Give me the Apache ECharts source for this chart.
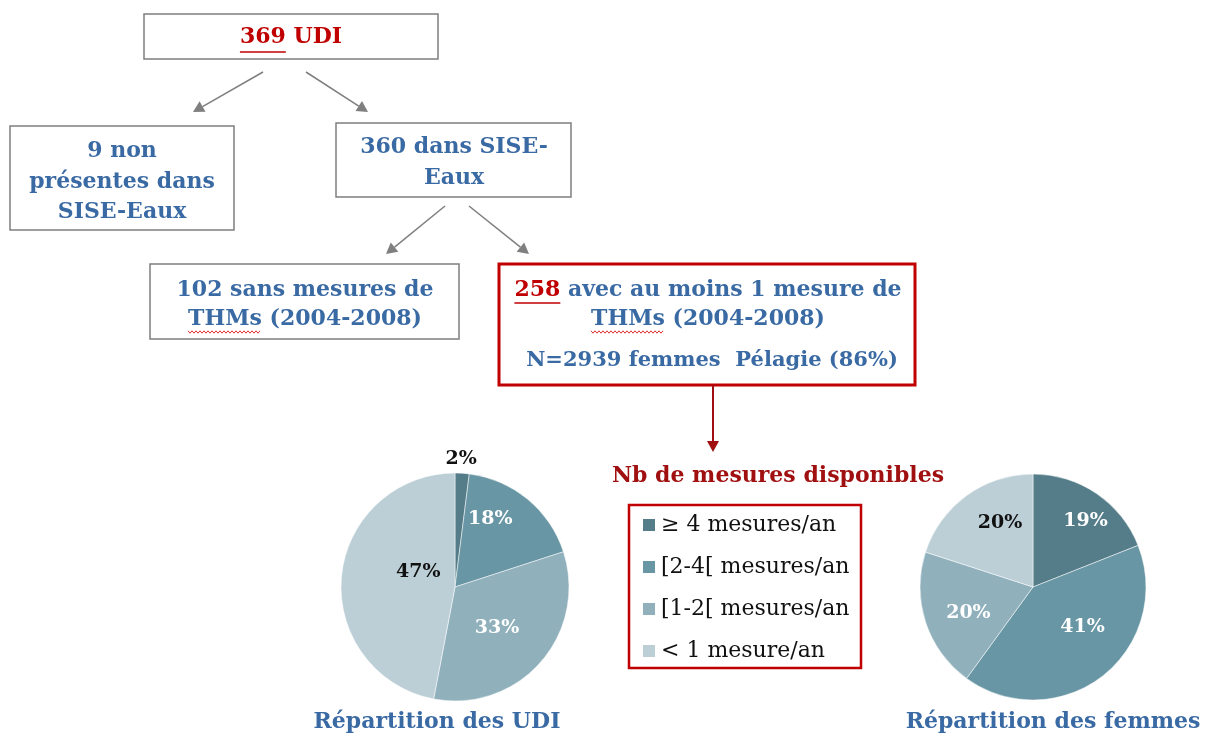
<!DOCTYPE html>
<html>
<head>
<meta charset="utf-8">
<script src="https://cdn.jsdelivr.net/npm/echarts@6/dist/echarts.min.js"></script>
<style>
  html, body { margin: 0; padding: 0; background: #fff; }
  #main { width: 1211px; height: 736px; }
</style>
</head>
<body>
<div id="main"></div>
<script>
// données
const categories = ['≥ 4 mesures/an', '[2-4[ mesures/an', '[1-2[ mesures/an', '< 1 mesure/an']
const udiShare = [2, 18, 33, 47]
const femmesShare = [19, 41, 20, 20]

const sliceColors = ['#557c89', '#6896a4', '#90b0bc', '#bccfd7']
const labelColors = ['#fff', '#fff', '#fff', '#111']
// décalage des étiquettes (comme dans l'original)
const udiLabelOffsets = [[-22, -10], [-3, -22], [-3, 1], [23, -9]]
const femmesLabelOffsets = [[19, -17], [13, -7], [-8, 8], [2, -16]]

const FONT = 'DejaVu Serif'
const FS = 22
const BOLD = 'bold ' + FS + 'px "' + FONT + '"'
const BLUE = '#3a6aa3'
const RED = '#c00000'
const GREY = '#7f7f7f'

let ctx = document.createElement('canvas').getContext('2d')
ctx.font = BOLD
function tw (s) {
  return ctx.measureText(s).width
}

function box (x, y, w, h, color, lw) {
  return { type: 'rect', shape: { x: x, y: y, width: w, height: h }, style: { fill: '#fff', stroke: color, lineWidth: lw } }
}

function txt (x, y, text, color, rich, font) {
  return {
    type: 'text',
    x: x,
    y: y,
    style: {
      text: text,
      fill: color,
      font: font || BOLD,
      align: 'center',
      verticalAlign: 'middle',
      rich: rich || {}
    }
  }
}

function arrow (x1, y1, x2, y2, color, lw) {
  let ang = Math.atan2(y2 - y1, x2 - x1)
  let len = 11
  let half = 6
  let bx = x2 - len * Math.cos(ang)
  let by = y2 - len * Math.sin(ang)
  let px = -Math.sin(ang) * half
  let py = Math.cos(ang) * half
  return [
    { type: 'line', shape: { x1: x1, y1: y1, x2: bx, y2: by }, style: { stroke: color, lineWidth: lw } },
    { type: 'polygon', shape: { points: [[x2, y2], [bx + px, by + py], [bx - px, by - py]] }, style: { fill: color } }
  ]
}

// soulignement du début d'une ligne centrée
function under (cx, y, full, part, color, wave) {
  let x1 = cx - tw(full) / 2
  let x2 = x1 + tw(part)
  if (!wave) {
    return { type: 'line', shape: { x1: x1, y1: y, x2: x2, y2: y }, style: { stroke: color, lineWidth: 1.5 } }
  }
  let pts = []
  let up = true
  for (let x = x1; x <= x2; x += 2) {
    pts.push([x, up ? y - 1.2 : y + 1.2])
    up = !up
  }
  return { type: 'polyline', shape: { points: pts }, style: { stroke: '#e03030', lineWidth: 1, fill: null } }
}

let redRich = { r: { fill: RED, font: BOLD } }
let l258 = '258 avec au moins 1 mesure de'
let lThm = 'THMs (2004-2008)'

let graphics = [
  box(144, 14, 294, 45, GREY, 1.5),
  txt(291, 37, '369 UDI', RED),
  under(291, 52, '369 UDI', '369', RED, false),

  box(10, 126, 224, 104, GREY, 1.5),
  txt(122, 151, '9 non', BLUE),
  txt(122, 182, 'présentes dans', BLUE),
  txt(122, 212, 'SISE-Eaux', BLUE),

  box(336, 123, 235, 74, GREY, 1.5),
  txt(454, 147, '360 dans SISE-', BLUE),
  txt(454, 178, 'Eaux', BLUE),

  box(150, 264, 309, 75, GREY, 1.5),
  txt(305, 290, '102 sans mesures de', BLUE),
  txt(305, 319, lThm, BLUE),
  under(305, 332, lThm, 'THMs', RED, true),

  box(499, 264, 416, 121, RED, 3),
  txt(708, 290, '{r|258} avec au moins 1 mesure de', BLUE, redRich),
  under(708, 303, l258, '258', RED, false),
  txt(708, 319, lThm, BLUE),
  under(708, 332, lThm, 'THMs', RED, true),
  txt(712, 361, 'N=2939 femmes  Pélagie (86%)', BLUE, null, 'bold 21px "' + FONT + '"'),

  {
    type: 'text',
    x: 778,
    y: 476,
    style: { text: 'Nb de mesures disponibles', fill: '#a01010', font: BOLD, align: 'center', verticalAlign: 'middle' }
  },
  { type: 'rect', shape: { x: 629, y: 505, width: 232, height: 163 }, style: { fill: null, stroke: RED, lineWidth: 2.5 } },

  txt(437, 722, 'Répartition des UDI', BLUE),
  txt(1053, 722, 'Répartition des femmes', BLUE)
]
graphics = graphics.concat(arrow(263, 72, 193, 112, GREY, 1.5))
graphics = graphics.concat(arrow(306, 72, 368, 112, GREY, 1.5))
graphics = graphics.concat(arrow(445, 206, 386, 254, GREY, 1.5))
graphics = graphics.concat(arrow(469, 206, 529, 254, GREY, 1.5))
graphics = graphics.concat(arrow(713, 385, 713, 452, '#a01010', 2))

function pieData (values, offsets, outsideFirst) {
  return values.map((v, i) => {
    let item = {
      name: categories[i],
      value: v,
      itemStyle: { color: sliceColors[i] },
      label: { color: labelColors[i], offset: offsets[i] }
    }
    if (outsideFirst && i === 0) {
      item.label = { position: 'outside', color: '#111', distance: 2, offset: offsets[i] }
      item.labelLine = { show: false, length: 4, length2: 0 }
    }
    return item
  })
}

let pieLabel = {
  show: true,
  position: 'inside',
  formatter: '{c}%',
  fontFamily: FONT,
  fontWeight: 'bold',
  fontSize: 19
}

let chart = echarts.init(document.getElementById('main'))
chart.setOption({
  backgroundColor: '#fff',
  animation: false,
  color: sliceColors,
  legend: {
    orient: 'vertical',
    left: 636,
    top: 509,
    itemWidth: 14,
    itemHeight: 14,
    itemGap: 20,
    icon: 'rect',
    data: categories,
    textStyle: { fontFamily: FONT, fontSize: 22, color: '#111', lineHeight: 21 },
    selectedMode: false
  },
  graphic: graphics,
  series: [
    {
      type: 'pie',
      center: [455, 587],
      radius: 114,
      startAngle: 90,
      clockwise: true,
      avoidLabelOverlap: false,
      label: pieLabel,
      labelLine: { show: false },
      itemStyle: { borderColor: '#fff', borderWidth: 0.5 },
      data: pieData(udiShare, udiLabelOffsets, true)
    },
    {
      type: 'pie',
      center: [1033, 587],
      radius: 113,
      startAngle: 90,
      clockwise: true,
      avoidLabelOverlap: false,
      label: pieLabel,
      labelLine: { show: false },
      itemStyle: { borderColor: '#fff', borderWidth: 0.5 },
      data: pieData(femmesShare, femmesLabelOffsets, false)
    }
  ]
})
</script>
</body>
</html>
